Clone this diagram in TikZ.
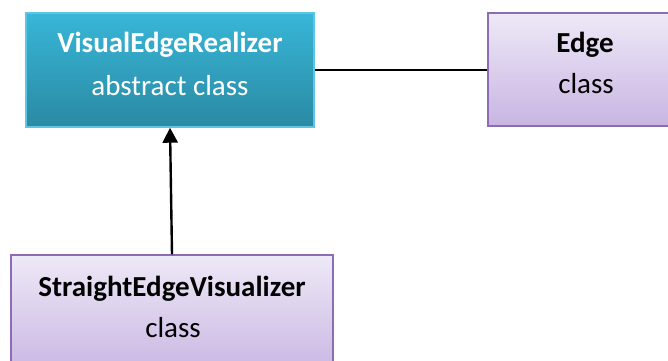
\documentclass[tikz,border=0pt]{standalone}
\usepackage{fontspec}
\setmainfont{Carlito}
\usetikzlibrary{arrows.meta}
\definecolor{abstop}{HTML}{38B6D8}
\definecolor{absbot}{HTML}{2A8AA3}
\definecolor{absline}{HTML}{5CC6E4}
\definecolor{clstop}{HTML}{EEE9F7}
\definecolor{clsbot}{HTML}{C8B5E2}
\definecolor{clsline}{HTML}{8E6CB4}
\tikzset{
  absbox/.style={draw=absline, line width=1.4pt, top color=abstop, bottom color=absbot, inner sep=0pt},
  clsbox/.style={draw=clsline, line width=1.4pt, top color=clstop, bottom color=clsbot, inner sep=0pt},
  title/.style={font=\fontsize{29}{34}\selectfont\bfseries, inner sep=0pt},
  kind/.style={font=\fontsize{29}{34}\selectfont, inner sep=0pt},
  link/.style={line width=2.4pt, black},
  inherit/.style={line width=2.4pt, black, -{Triangle[length=15pt,width=15pt]}}
}
\begin{document}
\begin{tikzpicture}[x=1pt,y=1pt]
\useasboundingbox (0,0) rectangle (668,360);
\clip (0,0) rectangle (668,360);
% boxes
\node[absbox, minimum width=288pt, minimum height=114pt] (ver) at (170,290) {};
\node[clsbox, minimum width=200pt, minimum height=113pt] (edge) at (588,290.5) {};
\node[clsbox, minimum width=322pt, minimum height=120pt] (sev) at (172,45) {};
% labels
\node[title, text=white] (verT) at (170,315) {VisualEdgeRealizer};
\node[kind, text=white] (verK) at (170,274) {abstract class};
\node[title] (edgeT) at (585,315) {Edge};
\node[kind] (edgeK) at (586,276) {class};
\node[title] (sevT) at (172,71) {StraightEdgeVisualizer};
\node[kind] (sevK) at (173,32) {class};
% connectors
\draw[link] (ver.east) -- (ver.east -| edge.west);
\draw[inherit] (sev.north) -- (ver.south);
\end{tikzpicture}
\end{document}
